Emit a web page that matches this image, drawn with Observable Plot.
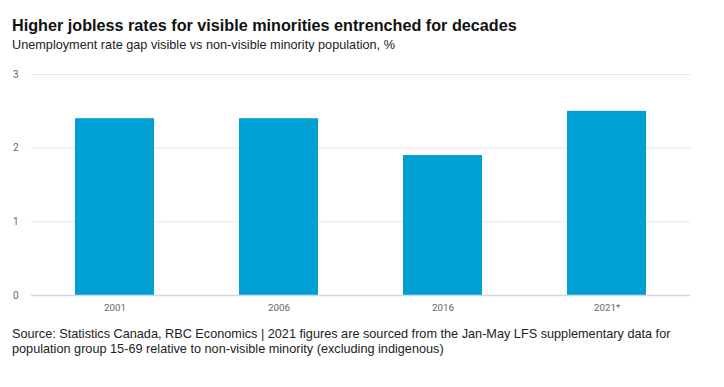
<!DOCTYPE html>
<html>
<head>
<meta charset="utf-8">
<script src="https://cdn.jsdelivr.net/npm/d3@7"></script>
<script src="https://cdn.jsdelivr.net/npm/@observablehq/plot@0.6"></script>
<style>
  html, body { margin: 0; padding: 0; background: #fff; }
  body { width: 724px; height: 387px; overflow: hidden; font-family: "Liberation Sans", Arial, sans-serif; }
  #title { position: absolute; left: 12px; top: 16px; font-size: 16.2px; font-weight: bold; color: #111; }
  #subtitle { position: absolute; left: 12px; top: 38px; font-size: 12.7px; color: #222; }
  #chart { position: absolute; left: 0; top: 60px; }
  #caption { position: absolute; left: 12px; top: 327px; font-size: 12.7px; line-height: 15px; color: #222; width: 700px; }
</style>
</head>
<body>
<div id="title">Higher jobless rates for visible minorities entrenched for decades</div>
<div id="subtitle">Unemployment rate gap visible vs non-visible minority population, %</div>
<div id="chart"></div>
<div id="caption">Source: Statistics Canada, RBC Economics | 2021 figures are sourced from the Jan-May LFS supplementary data for population group 15-69 relative to non-visible minority (excluding indigenous)</div>
<script>
const years = ["2001", "2006", "2016", "2021*"];
const gaps = [2.4, 2.4, 1.9, 2.5];
const yTicks = [0, 1, 2, 3];

const data = years.map((y, i) => ({year: y, gap: gaps[i]}));

const chart = Plot.plot({
  width: 710,
  height: 255,
  marginLeft: 31,
  marginRight: 20,
  marginTop: 14,
  marginBottom: 20,
  style: {fontFamily: "Roboto, 'Liberation Sans', sans-serif", background: "transparent"},
  x: {domain: years, paddingInner: 0.52, paddingOuter: 0.26, label: null},
  y: {domain: [0, 3], label: null},
  marks: [
    Plot.gridY(yTicks, {stroke: "#e6e6e6", strokeOpacity: 1, strokeWidth: 1}),
    Plot.barY(data, {x: "year", y: "gap", fill: "#00a0d4"}),
    Plot.ruleY([0], {stroke: "#d3d6e4", strokeWidth: 1.5}),
    Plot.axisY(yTicks, {tickSize: 0, tickPadding: 13, fontSize: 10, fill: "#666", tickFormat: d => d}),
    Plot.axisX({tickSize: 0, tickPadding: 9, fontSize: 9.8, fill: "#666", letterSpacing: "0.8px"})
  ]
});
document.getElementById("chart").appendChild(chart);
</script>
</body>
</html>
